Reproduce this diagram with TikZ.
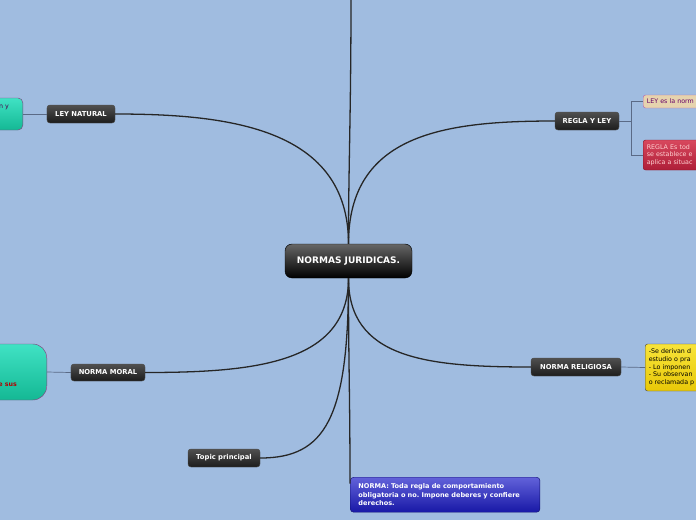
\documentclass[tikz,border=0pt]{standalone}
\usepackage{fontspec}
\setmainfont{DejaVu Sans}
\frenchspacing
\definecolor{mapbg}{HTML}{A0BCE0}
\definecolor{wire}{HTML}{262626}
\definecolor{subwire}{HTML}{5A6A86}
\definecolor{boxtop}{HTML}{505050}
\definecolor{boxbot}{HTML}{1C1C1C}
\definecolor{greentop}{HTML}{40E2C4}
\definecolor{greenbot}{HTML}{14B894}
\definecolor{beigenote}{HTML}{E6D3AE}
\definecolor{crimtop}{HTML}{D8485E}
\definecolor{crimbot}{HTML}{AE1E38}
\definecolor{yeltop}{HTML}{F8E43A}
\definecolor{yelbot}{HTML}{E8C808}
\definecolor{bluetop}{HTML}{6262DA}
\definecolor{bluebot}{HTML}{1818A6}
\begin{document}
\begin{tikzpicture}[x=0.03cm,y=-0.03cm,
    topicbox/.style={draw=black!70, rounded corners=2.5pt, top color=boxtop, bottom color=boxbot,
      text=white, font=\bfseries\fontsize{5.8}{7}\selectfont, minimum height=0.54cm, inner sep=0pt},
    notebox/.style={rounded corners=2pt, anchor=west, text width=2.6cm, align=left, inner xsep=3pt,
      font=\fontsize{5.4}{6.6}\selectfont},
    greenbox/.style={draw=violet!45!gray, top color=greentop, bottom color=greenbot, anchor=east},
    wire/.style={draw=wire, line width=1.1pt},
    subwire/.style={draw=subwire, line width=0.6pt}]
  \fill[mapbg] (0,0) rectangle (696,520);
  \clip (0,0) rectangle (696,520);

  % central topic
  \node[topicbox, rounded corners=6pt, top color=gray!80!black, bottom color=black, draw=black,
    font=\bfseries\fontsize{7.7}{9}\selectfont, minimum width=3.81cm, minimum height=1.02cm]
    (norms) at (348.5,261) {NORMAS JURIDICAS.};

  % main branches
  \node[topicbox, minimum width=2.04cm] (leynat) at (81,114) {LEY NATURAL};
  \node[topicbox, minimum width=1.92cm] (regla) at (587,121) {REGLA Y LEY};
  \node[topicbox, minimum width=2.22cm, minimum height=0.51cm] (moral) at (108,372.5) {NORMA MORAL};
  \node[topicbox, minimum width=2.7cm] (relig) at (576,367) {NORMA RELIGIOSA};
  \node[topicbox, minimum width=2.16cm] (topic) at (224,458) {Topic principal};
  \node[draw=bluebot!70!black, rounded corners=3pt, top color=bluetop, bottom color=bluebot,
    text=white, anchor=north west, text width=5.2cm, minimum height=1.05cm, align=left,
    inner xsep=7pt, font=\bfseries\fontsize{5.6}{7.4}\selectfont]
    (normadef) at (350,477) {NORMA: Toda regla de comportamiento\\obligatoria o no. Impone deberes y confiere\\derechos.};
  \coordinate (upper) at (351,-5);

  % details
  \node[greenbox, rounded corners=4pt, minimum width=2.4cm, minimum height=0.96cm,
    label={[anchor=north east, font=\fontsize{5.4}{6.6}\selectfont, text=violet!60!black,
      xshift=-0.3cm, yshift=-0.1cm]north east:n y}] (natdesc) at (23,114) {};
  \node[greenbox, rounded corners=12pt, minimum width=2.6cm, minimum height=1.68cm,
    label={[anchor=south east, font=\bfseries\fontsize{5.4}{6.6}\selectfont, text=red!70!black,
      xshift=-0.78cm, yshift=0.28cm]south east:e sus}] (moraldesc) at (47,372) {};
  \node[notebox, draw=violet!60, fill=beigenote, text=violet!80!black,
    minimum height=0.39cm] (leydesc) at (643,101.5) {LEY es la norm};
  \node[notebox, draw=crimbot!80!black, top color=crimtop, bottom color=crimbot,
    text=pink!70!white, minimum height=0.9cm] (regladesc) at (643,155)
    {REGLA Es tod\\se establece e\\aplica a situac};
  \node[notebox, draw=black!70, top color=yeltop, bottom color=yelbot,
    text=black, minimum height=1.41cm] (religdesc) at (645,367.5)
    {-Se derivan d\\estudio o pra\\- Lo imponen\\- Su observan\\o reclamada p};

  % connectors
  \draw[wire] (norms.north) .. controls +(0,-80) and +(0,120) .. (upper);
  \draw[wire] (norms.north) .. controls +(0,-115) and +(115,0) .. (leynat.east);
  \draw[wire] (norms.north) .. controls +(0,-110) and +(-110,0) .. (regla.west);
  \draw[wire] (norms.south) .. controls +(0,85) and +(110,0) .. (moral.east);
  \draw[wire] (norms.south) .. controls +(0,80) and +(-105,0) .. (relig.west);
  \draw[wire] (norms.south) .. controls +(0,140) and +(65,0) .. (topic.east);
  \draw[wire] (norms.south) .. controls +(0,90) and +(0,-90) .. ([yshift=-0.2cm]normadef.north west);

  \draw[subwire] (leynat.west) -- (natdesc.east);
  \draw[subwire] (moral.west) -- (moraldesc.east);
  \draw[subwire] (relig.east) -- (religdesc.west);
  \draw[subwire] (regla.east) -- ++(12,0) |- (leydesc.west);
  \draw[subwire] (regla.east) -- ++(12,0) |- (regladesc.west);
\end{tikzpicture}
\end{document}
